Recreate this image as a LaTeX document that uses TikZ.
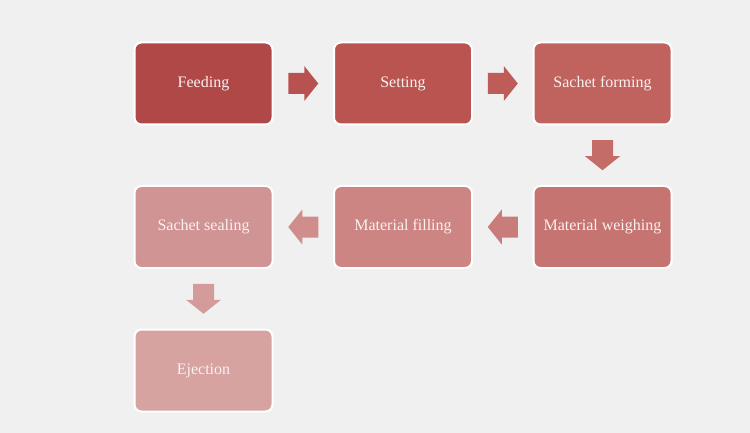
\documentclass[tikz,border=0pt]{standalone}
\usepackage{fontspec}
\setmainfont{Liberation Serif}
\usetikzlibrary{positioning,calc}

\definecolor{bgcol}{HTML}{F0F0F0}
\definecolor{stepA}{HTML}{B04848}
\definecolor{stepB}{HTML}{BA5450}
\definecolor{stepC}{HTML}{C0635F}
\definecolor{stepD}{HTML}{C67472}
\definecolor{stepE}{HTML}{CC8583}
\definecolor{stepF}{HTML}{D19494}
\definecolor{stepG}{HTML}{D7A3A1}
\definecolor{txtcol}{HTML}{FBF0F0}

\tikzset{
  stepbox/.style={draw=white, line width=2pt, rounded corners=7pt,
    minimum width=138pt, minimum height=82pt, text=txtcol,
    font=\fontsize{16}{19}\selectfont},
  flowarrow/.pic={
    \fill[pic actions] (-15,-10.5) -- (1,-10.5) -- (1,-17.5) -- (15,0)
      -- (1,17.5) -- (1,10.5) -- (-15,10.5) -- cycle;
  }
}

\begin{document}
\begin{tikzpicture}[x=1pt, y=1pt, node distance=59.5pt]
    % Background
    \fill[bgcol] (0,0) rectangle (750,-433);
    \useasboundingbox (0,0) rectangle (750,-433);
    % Process steps
    \node[stepbox, fill=stepA] (feed) at (203.5,-83.5) {Feeding};
    \node[stepbox, fill=stepB, right=of feed] (set) {Setting};
    \node[stepbox, fill=stepC, right=of set] (form) {Sachet forming};
    \node[stepbox, fill=stepD, below=of form] (weigh) {Material weighing};
    \node[stepbox, fill=stepE, left=of weigh] (fill) {Material filling};
    \node[stepbox, fill=stepF, left=of fill] (seal) {Sachet sealing};
    \node[stepbox, fill=stepG, below=of seal] (eject) {Ejection};
    % Block arrows between the steps
    \foreach \a/\b/\ang/\col in {feed/set/0/B85250, set/form/0/BD5C58,
        form/weigh/-90/C46C68, weigh/fill/180/C97D7B,
        fill/seal/180/CF8D8B, seal/eject/-90/D49B9A} {
      \definecolor{arrcol}{HTML}{\col}
      \pic[fill=arrcol, rotate=\ang] at ($(\a)!0.5!(\b)$) {flowarrow};
    }
  \end{tikzpicture}
\end{document}
